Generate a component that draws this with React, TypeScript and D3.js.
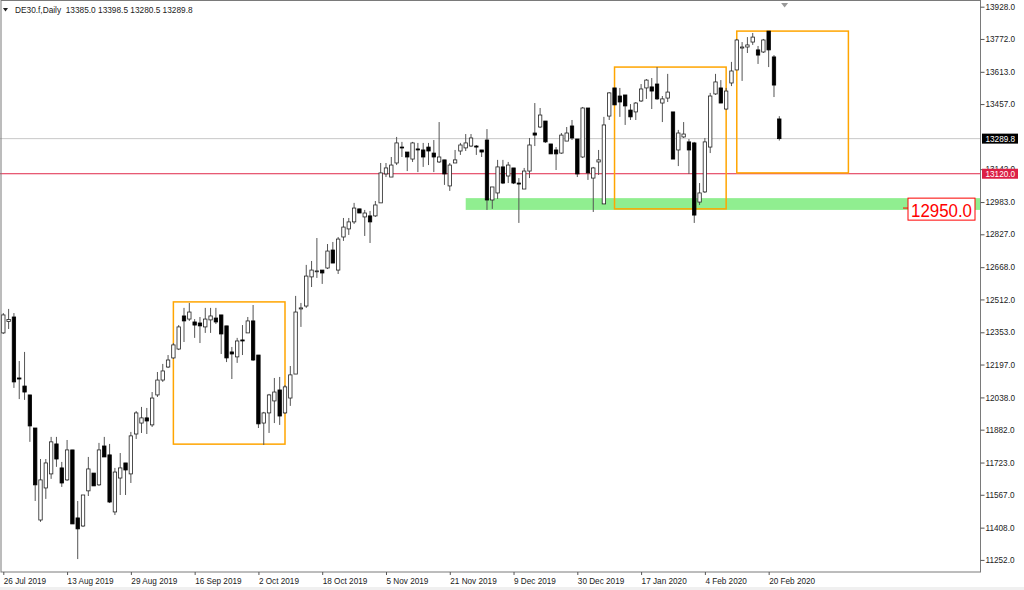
import React, { useEffect, useRef } from 'react';
import * as d3 from 'd3';

// DE30 daily candles: [open, high, low, close]
const candles: [number, number, number, number][] = [
  [12350, 12446, 12345, 12437], [12405, 12466, 12369, 12415], [12427, 12446, 12084, 12113], [12132, 12214, 12030, 12127],
  [12093, 12258, 12026, 12064], [12050, 12050, 11823, 11900], [11890, 11890, 11537, 11615], [11445, 11740, 11436, 11639],
  [11600, 11740, 11547, 11721], [11668, 11847, 11644, 11823], [11813, 11847, 11702, 11740], [11697, 11726, 11605, 11624],
  [11639, 11832, 11634, 11784], [11784, 11784, 11426, 11426], [11455, 11537, 11256, 11402], [11416, 11566, 11411, 11566],
  [11586, 11750, 11561, 11692], [11672, 11672, 11610, 11610], [11615, 11818, 11610, 11784], [11803, 11847, 11750, 11750],
  [11760, 11813, 11527, 11532], [11484, 11697, 11469, 11677], [11648, 11769, 11566, 11697], [11721, 11721, 11566, 11687],
  [11668, 11871, 11624, 11852], [11861, 11972, 11837, 11963], [11914, 11992, 11866, 11939], [11939, 11987, 11861, 11924],
  [11905, 12064, 11895, 12035], [12050, 12161, 12040, 12122], [12122, 12200, 12113, 12166], [12185, 12243, 12180, 12219],
  [12229, 12301, 12224, 12292], [12272, 12388, 12267, 12379], [12432, 12471, 12306, 12408], [12417, 12495, 12408, 12451],
  [12403, 12417, 12326, 12388], [12398, 12427, 12301, 12384], [12379, 12471, 12350, 12417], [12413, 12471, 12350, 12432],
  [12422, 12471, 12393, 12403], [12437, 12437, 12248, 12345], [12384, 12384, 12209, 12229], [12258, 12282, 12127, 12248],
  [12234, 12326, 12205, 12311], [12316, 12388, 12243, 12311], [12350, 12427, 12350, 12408], [12408, 12485, 12214, 12219],
  [12243, 12243, 11890, 11910], [11914, 11968, 11808, 11963], [11963, 12055, 11866, 12050], [12021, 12132, 11914, 12064],
  [12074, 12137, 11905, 11948], [11963, 12098, 11958, 12089], [12035, 12190, 11997, 12147], [12151, 12529, 12151, 12451],
  [12466, 12495, 12379, 12471], [12480, 12679, 12471, 12625], [12621, 12698, 12572, 12654], [12647, 12809, 12616, 12650],
  [12654, 12654, 12587, 12640], [12664, 12780, 12659, 12746], [12751, 12790, 12688, 12688], [12654, 12814, 12635, 12804],
  [12814, 12906, 12795, 12862], [12853, 12906, 12824, 12887], [12887, 12979, 12877, 12954], [12950, 12950, 12930, 12930],
  [12911, 12945, 12819, 12930], [12916, 12940, 12785, 12887], [12916, 12988, 12911, 12969], [12979, 13172, 12979, 13124],
  [13119, 13172, 13104, 13148], [13104, 13201, 13104, 13162], [13172, 13298, 13162, 13269], [13249, 13274, 13201, 13245],
  [13225, 13225, 13133, 13201], [13191, 13274, 13177, 13269], [13240, 13269, 13128, 13235], [13235, 13269, 13153, 13201],
  [13249, 13269, 13162, 13230], [13220, 13283, 13128, 13201], [13177, 13370, 13172, 13201], [13187, 13187, 13066, 13119],
  [13061, 13172, 13037, 13162], [13172, 13235, 13172, 13187], [13230, 13269, 13211, 13259], [13245, 13312, 13230, 13269],
  [13254, 13312, 13249, 13293], [13254, 13259, 13211, 13249], [13235, 13235, 13201, 13225], [13283, 13336, 12945, 12993],
  [12993, 13056, 12950, 13056], [13027, 13187, 12998, 13153], [13153, 13187, 13070, 13075], [13109, 13177, 13075, 13162],
  [13148, 13148, 13070, 13075], [13075, 13099, 12882, 13070], [13046, 13148, 13046, 13133], [13133, 13293, 13099, 13259],
  [13317, 13462, 13254, 13307], [13346, 13438, 13341, 13404], [13375, 13375, 13269, 13274], [13264, 13264, 13216, 13216],
  [13235, 13249, 13138, 13216], [13220, 13317, 13216, 13307], [13278, 13346, 13278, 13317], [13351, 13380, 13283, 13293],
  [13288, 13288, 13104, 13119], [13201, 13443, 13196, 13438], [13438, 13438, 13090, 13124], [13099, 13153, 12935, 13148],
  [13177, 13235, 13114, 13187], [12974, 13395, 12974, 13356], [13399, 13515, 13380, 13511], [13535, 13535, 13453, 13453],
  [13496, 13535, 13395, 13467], [13501, 13501, 13356, 13448], [13428, 13457, 13380, 13395], [13419, 13467, 13380, 13462],
  [13472, 13554, 13467, 13530], [13535, 13578, 13482, 13573], [13540, 13583, 13433, 13520], [13554, 13636, 13477, 13482],
  [13462, 13496, 13370, 13482], [13486, 13603, 13467, 13515], [13419, 13419, 13191, 13191], [13235, 13332, 13157, 13317],
  [13298, 13370, 13293, 13312], [13274, 13288, 13119, 13235], [13269, 13274, 12882, 12920], [12983, 13075, 12969, 13027],
  [13032, 13293, 13027, 13274], [13249, 13511, 13220, 13496], [13506, 13603, 13501, 13564], [13535, 13573, 13462, 13462],
  [13433, 13535, 13428, 13520], [13559, 13661, 13544, 13617], [13622, 13772, 13622, 13767], [13728, 13757, 13569, 13733],
  [13733, 13781, 13704, 13743], [13757, 13801, 13743, 13781], [13719, 13738, 13651, 13694], [13709, 13772, 13704, 13767],
  [13810, 13810, 13636, 13719], [13685, 13694, 13491, 13549], [13385, 13398.5, 13280.5, 13289.8],
];

// trading calendar
const firstDay = '2019-07-26';
const closedDays = ['2019-12-24', '2019-12-25', '2019-12-26', '2019-12-31', '2020-01-01'];
const dateTicks = [
  '26 Jul 2019', '13 Aug 2019', '29 Aug 2019', '16 Sep 2019', '2 Oct 2019', '18 Oct 2019', '5 Nov 2019',
  '21 Nov 2019', '9 Dec 2019', '30 Dec 2019', '17 Jan 2020', '4 Feb 2020', '20 Feb 2020',
];
const priceTicks = [13928, 13772, 13613, 13457, 13142, 12983, 12827, 12668, 12512, 12353, 12197, 12038, 11882, 11723, 11567, 11408, 11252];

// levels / drawn objects
const bidPrice = 13289.8;
const redLevel = 13120;
const zoneFrom = 87;
const zonePrices = [13002, 12945];
const noteText = '12950.0';
const notePrice = 12954;
// rectangles: [fromBar, toBar, topPrice, bottomPrice]
const boxes: [number, number, number, number][] = [
  [32, 53, 12500, 11812],
  [115, 136, 13636, 12950],
  [138, 159, 13810, 13124],
];

const W = 1024;
const H = 590;
const plotRight = 980.5;
const plotBottom = 572;
const FONT = "'Liberation Sans', Arial, sans-serif";

const buildDates = () => {
  const out: Date[] = [];
  const d = new Date(firstDay + 'T12:00:00');
  const fmt = d3.timeFormat('%Y-%m-%d');
  while (out.length < candles.length) {
    const wd = d.getDay();
    if (wd !== 0 && wd !== 6 && !closedDays.includes(fmt(d))) out.push(new Date(d));
    d.setDate(d.getDate() + 1);
  }
  return out;
};

const App: React.FC = () => {
  const svgRef = useRef<SVGSVGElement>(null);

  useEffect(() => {
    if (!svgRef.current) return;
    const svg = d3.select(svgRef.current);
    svg.selectAll('*').remove();

    const dates = buildDates();
    const labelFmt = d3.timeFormat('%-d %b %Y');
    const tickIdx = dateTicks.map(t => dates.findIndex(d => labelFmt(d) === t));

    const x = d3.scaleLinear().domain([0, candles.length - 1]).range([3.3, 779.3]);
    const y = d3.scaleLinear().domain([11252, 13928]).range([559.9, 6.7]);

    svg.append('rect').attr('width', W).attr('height', H).attr('fill', '#fff');
    svg.append('rect').attr('y', 587).attr('width', W).attr('height', 3).attr('fill', '#f0f0f0');

    // support zone
    svg.append('rect')
      .attr('x', x(zoneFrom))
      .attr('y', y(zonePrices[0]))
      .attr('width', plotRight - x(zoneFrom))
      .attr('height', y(zonePrices[1]) - y(zonePrices[0]))
      .attr('fill', '#90ee90');

    // horizontal lines
    svg.append('line')
      .attr('x1', 0).attr('x2', plotRight)
      .attr('y1', y(bidPrice)).attr('y2', y(bidPrice))
      .attr('stroke', '#c8c8c8').attr('stroke-width', 1);
    svg.append('line')
      .attr('x1', 0).attr('x2', plotRight)
      .attr('y1', y(redLevel)).attr('y2', y(redLevel))
      .attr('stroke', '#e0284a').attr('stroke-width', 1);

    // rectangles
    svg.selectAll('.box')
      .data(boxes)
      .enter()
      .append('rect')
      .attr('class', 'box')
      .attr('x', d => x(d[0]))
      .attr('y', d => y(d[2]))
      .attr('width', d => x(d[1]) - x(d[0]))
      .attr('height', d => y(d[3]) - y(d[2]))
      .attr('fill', 'none')
      .attr('stroke', '#ffa500')
      .attr('stroke-width', 1.5);

    // candles
    const g = svg.append('g');
    const bodyW = 3.4;
    g.selectAll('.wick')
      .data(candles)
      .enter()
      .append('line')
      .attr('class', 'wick')
      .attr('x1', (_, i) => x(i)).attr('x2', (_, i) => x(i))
      .attr('y1', d => y(d[1])).attr('y2', d => y(d[2]))
      .attr('stroke', '#555')
      .attr('stroke-width', 1);
    g.selectAll('.body')
      .data(candles)
      .enter()
      .append('rect')
      .attr('class', 'body')
      .attr('x', (_, i) => x(i) - bodyW / 2)
      .attr('y', d => y(Math.max(d[0], d[3])))
      .attr('width', bodyW)
      .attr('height', d => Math.max(0.9, Math.abs(y(d[0]) - y(d[3]))))
      .attr('fill', d => (d[3] >= d[0] ? '#fff' : '#000'))
      .attr('stroke', d => (d[3] >= d[0] ? '#222' : '#000'))
      .attr('stroke-width', 0.8);

    // chart frame
    svg.append('rect')
      .attr('x', 1).attr('y', 0.5)
      .attr('width', plotRight - 1).attr('height', plotBottom - 0.5)
      .attr('fill', 'none')
      .attr('stroke', '#7a7a7a')
      .attr('stroke-width', 1);

    // shift marker
    const mx = x(candles.length);
    svg.append('path')
      .attr('d', `M${mx - 3.5},3 L${mx + 3.5},3 L${mx},7.5 Z`)
      .attr('fill', '#999');

    // price axis
    const yAxis = svg.append('g')
      .attr('transform', `translate(${plotRight},0)`)
      .call(d3.axisRight(y).tickValues(priceTicks).tickSize(4).tickPadding(1).tickFormat(d3.format('.1f')));
    yAxis.select('.domain').remove();
    yAxis.selectAll('line').attr('stroke', '#555');
    yAxis.selectAll('text').style('font-family', FONT).style('font-size', '8.2px').attr('fill', '#222');

    // date axis
    const xAxis = svg.append('g')
      .attr('transform', `translate(0,${plotBottom})`)
      .call(d3.axisBottom(x).tickValues(tickIdx).tickSize(3).tickPadding(3).tickFormat((_, i) => dateTicks[i]));
    xAxis.select('.domain').remove();
    xAxis.selectAll('line').attr('stroke', '#555');
    xAxis.selectAll('text')
      .attr('text-anchor', 'start')
      .attr('x', 0)
      .style('font-family', FONT).style('font-size', '8.2px').attr('fill', '#222');

    // price tags
    const tag = (price: number, bg: string) => {
      svg.append('rect')
        .attr('x', plotRight + 1.5).attr('y', y(price) - 5)
        .attr('width', 36).attr('height', 10)
        .attr('fill', bg);
      svg.append('text')
        .attr('x', plotRight + 5).attr('y', y(price) + 3)
        .style('font-family', FONT).style('font-size', '8.2px')
        .attr('fill', '#fff')
        .text(d3.format('.1f')(price));
    };
    tag(bidPrice, '#000');
    tag(redLevel, '#dc1f45');

    // text note
    const noteTop = y(zonePrices[0]);
    const noteLeft = 908;
    svg.append('line')
      .attr('x1', noteLeft - 5).attr('x2', noteLeft)
      .attr('y1', y(notePrice)).attr('y2', y(notePrice))
      .attr('stroke', '#ff0000').attr('stroke-width', 1);
    svg.append('rect')
      .attr('x', noteLeft).attr('y', noteTop)
      .attr('width', 67).attr('height', 22)
      .attr('fill', '#fff')
      .attr('stroke', '#ff0000').attr('stroke-width', 1);
    svg.append('text')
      .attr('x', noteLeft + 3).attr('y', noteTop + 18.5)
      .attr('textLength', 61).attr('lengthAdjust', 'spacingAndGlyphs')
      .style('font-family', FONT).style('font-size', '19px')
      .attr('fill', '#ff0000')
      .text(noteText);

    // header
    svg.append('path').attr('d', 'M3,8 L8,8 L5.5,11.5 Z').attr('fill', '#222');
    const last = candles[candles.length - 1];
    svg.append('text')
      .attr('x', 15).attr('y', 12.5)
      .attr('xml:space', 'preserve')
      .style('font-family', FONT).style('font-size', '8.3px')
      .attr('fill', '#222')
      .text(`DE30.f,Daily  ${last.map(v => v.toFixed(1)).join(' ')}`);
  }, []);

  return (
    <svg
      ref={svgRef}
      width={W}
      height={H}
      style={{ position: 'absolute', left: 0, top: 0, display: 'block' }}
    />
  );
};

export default App;
